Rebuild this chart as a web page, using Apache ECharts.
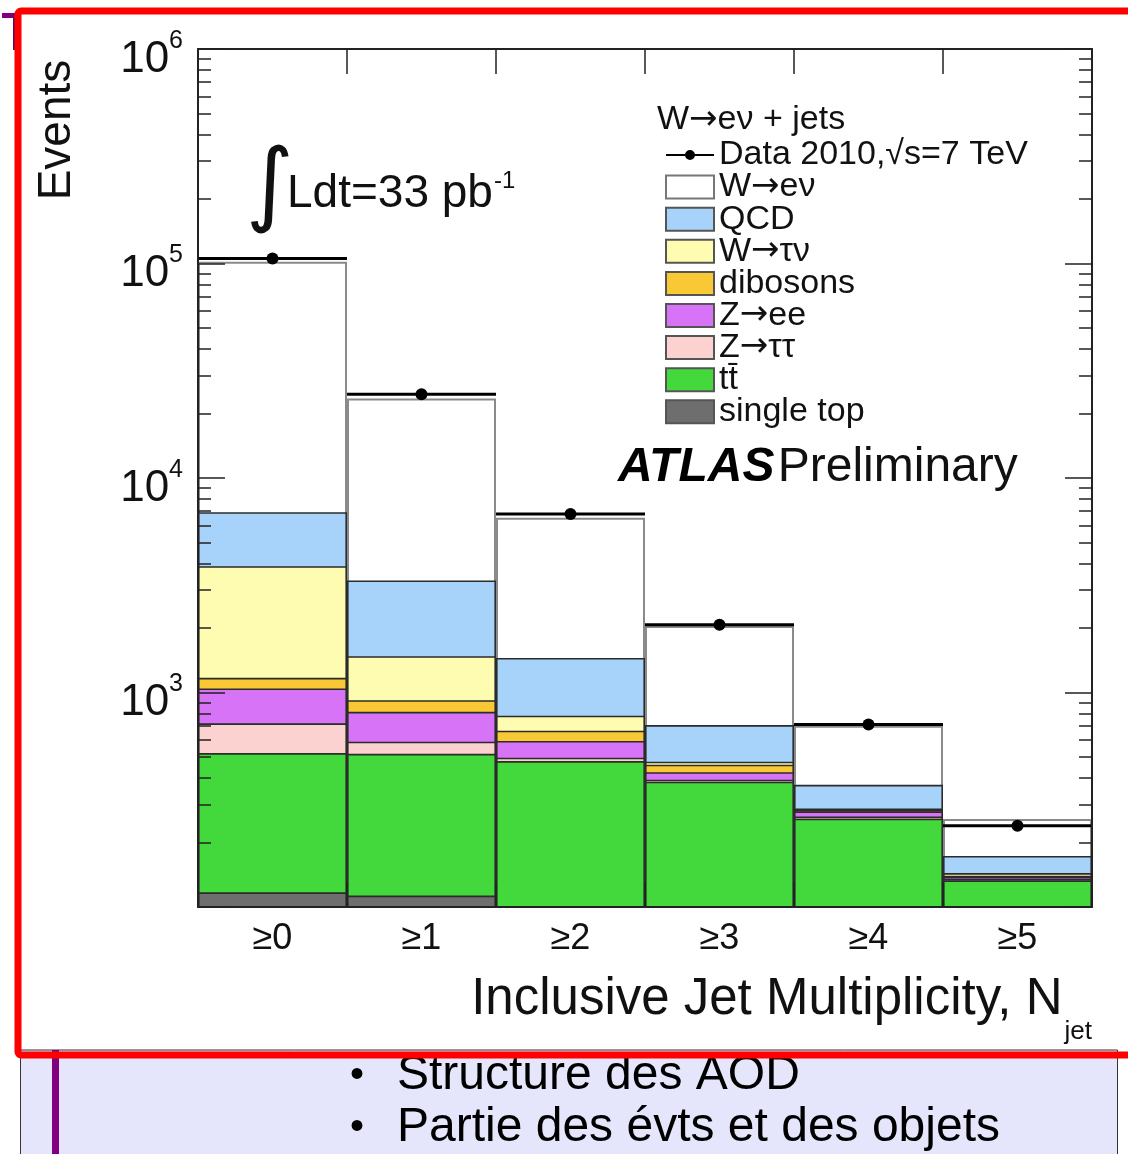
<!DOCTYPE html>
<html>
<head>
<meta charset="utf-8">
<script src="https://cdn.jsdelivr.net/npm/echarts@6/dist/echarts.min.js"></script>
<style>
html,body{margin:0;padding:0;background:#fff;}
#chart{width:1128px;height:1154px;}
</style>
</head>
<body>
<div id="chart"></div>
<script>
// ---------------- data ----------------
const categories = ['≥0', '≥1', '≥2', '≥3', '≥4', '≥5'];
const dataEvents = [105500, 24600, 6800, 2070, 710, 239];
const wenu      = [95075, 20170, 5080, 1335, 329, 84];
const qcd       = [3045, 1854, 670, 229, 83, 29];
const wtaunu    = [2710, 556, 116, 15, 5, 4];
const dibosons  = [125, 107, 70, 36, 4, 2];
const zee       = [327, 223, 97, 33, 15, 3];
const ztautau   = [196, 72, 18, 8, 6, 2];
const ttbar     = [405, 405, 389, 324, 228, 123];
const singleTop = [117, 113, 90, 60, 30, 10];
const yMajorTicks = [100, 1000, 10000, 100000, 1000000];
const yLabelTicks = [1000, 10000, 100000, 1000000];
const yMinorTicks = [200, 300, 400, 500, 600, 700, 800, 900,
  2000, 3000, 4000, 5000, 6000, 7000, 8000, 9000,
  20000, 30000, 40000, 50000, 60000, 70000, 80000, 90000,
  200000, 300000, 400000, 500000, 600000, 700000, 800000, 900000];
const dataName = 'Data 2010,√s=7 TeV';

// ---------------- build ----------------
const FONT = '"Liberation Sans", Arial, Helvetica, sans-serif';
const ARROWFONT = '"DejaVu Sans", sans-serif';
const layers = [ // bottom -> top of the stack
  {name: 'single top', values: singleTop, color: '#6e6e6e'},
  {name: 'tt\u0304', values: ttbar, color: '#43d83b'},
  {name: 'Z→ττ', values: ztautau, color: '#fcd2d0'},
  {name: 'Z→ee', values: zee, color: '#d773f6'},
  {name: 'dibosons', values: dibosons, color: '#f8c935'},
  {name: 'W→τν', values: wtaunu, color: '#fdfcb1'},
  {name: 'QCD', values: qcd, color: '#a7d3fa'},
  {name: 'W→eν', values: wenu, color: '#ffffff', border: '#8a8a8a'}
];
// cumulative stack tops
let running = categories.map(() => 0);
layers.forEach(l => {
  running = running.map((r, i) => r + l.values[i]);
  l.cum = running.slice();
});

const series = [];
for (let k = layers.length - 1; k >= 0; k--) {
  const l = layers[k];
  series.push({
    name: l.name,
    type: 'bar',
    xAxisIndex: 0, yAxisIndex: 0,
    data: l.cum,
    barGap: '-100%',
    barCategoryGap: '0%',
    clip: true,
    z: 2 + (layers.length - k),
    itemStyle: {color: l.color, borderColor: l.border || '#2b2b2b', borderWidth: l.border ? 2 : 1.6},
    emphasis: {disabled: true}
  });
}
series.push({
  name: dataName,
  type: 'custom',
  xAxisIndex: 0, yAxisIndex: 0,
  z: 20,
  itemStyle: {color: '#000'},
  data: dataEvents.map((v, i) => [i, v]),
  encode: {x: 0, y: 1},
  renderItem: function (params, api) {
    const c = api.coord([api.value(0), api.value(1)]);
    const w = api.size([1, 0])[0];
    return {
      type: 'group',
      children: [
        {type: 'line', shape: {x1: c[0] - w / 2, y1: c[1], x2: c[0] + w / 2, y2: c[1]}, style: {stroke: '#000', lineWidth: 3}},
        {type: 'circle', shape: {cx: c[0], cy: c[1], r: 6}, style: {fill: '#000'}}
      ]
    };
  }
});

const axisLineStyle = {color: '#222', width: 2};
const tickStyle = {color: '#222', width: 1.5};
function logAxis(extra) {
  return Object.assign({
    type: 'log', logBase: 10, min: 100, max: 1000000, z: 30,
    splitLine: {show: false}, minorTick: {show: false}
  }, extra);
}

const option = {
  animation: false,
  backgroundColor: '#ffffff',
  grid: {left: 198, right: 36, top: 49, bottom: 247, containLabel: false},
  legend: {
    orient: 'vertical', left: 660, top: 133,
    itemWidth: 48, itemHeight: 23, itemGap: -1.9,
    selectedMode: false,
    textStyle: {
      fontFamily: FONT, fontSize: 34, color: '#111',
      rich: {a: {fontFamily: ARROWFONT, fontSize: 34, color: '#111'}}
    },
    formatter: function (name) { return name.replace('→', '{a|→}'); },
    itemStyle: {borderColor: '#555', borderWidth: 2},
    data: [
      {name: dataName, icon: 'path://M0,3.6 H48 V5.4 H0 Z M29,4.5 A5,5 0 1 1 19,4.5 A5,5 0 1 1 29,4.5 Z', itemStyle: {borderWidth: 0, color: '#000'}},
      {name: 'W→eν', icon: 'rect', itemStyle: {borderColor: '#777'}},
      {name: 'QCD', icon: 'rect'},
      {name: 'W→τν', icon: 'rect'},
      {name: 'dibosons', icon: 'rect'},
      {name: 'Z→ee', icon: 'rect'},
      {name: 'Z→ττ', icon: 'rect'},
      {name: 'tt\u0304', icon: 'rect'},
      {name: 'single top', icon: 'rect'}
    ]
  },
  xAxis: [
    {
      type: 'category', data: categories, position: 'bottom', boundaryGap: true, z: 30,
      axisLine: {show: true, lineStyle: axisLineStyle},
      axisTick: {show: true, inside: true, length: 25, lineStyle: tickStyle},
      axisLabel: {fontFamily: FONT, fontSize: 36, color: '#111', margin: 14},
      name: '{m|Inclusive Jet Multiplicity, N}{s|jet}',
      nameLocation: 'end', nameGap: 0,
      nameTextStyle: {
        align: 'right', verticalAlign: 'top', padding: [67, 0, 0, 0],
        rich: {
          m: {fontFamily: FONT, fontSize: 51, color: '#111', verticalAlign: 'top'},
          s: {fontFamily: FONT, fontSize: 26, color: '#111', verticalAlign: 'top', padding: [45, 0, 0, 2]}
        }
      }
    },
    {
      type: 'category', data: categories, position: 'top', boundaryGap: true, z: 30,
      axisLine: {show: true, lineStyle: axisLineStyle},
      axisTick: {show: true, inside: true, length: 25, lineStyle: tickStyle},
      axisLabel: {show: false}
    }
  ],
  yAxis: [
    logAxis({
      position: 'left',
      axisLine: {show: true, lineStyle: axisLineStyle},
      axisTick: {show: true, inside: true, length: 27, lineStyle: tickStyle, customValues: yMajorTicks},
      axisLabel: {
        customValues: yLabelTicks,
        margin: 15, padding: [12, 0, 0, 0],
        formatter: function (v) {
          const e = Math.round(Math.log10(v));
          return '{b|10}{e|' + e + '}';
        },
        rich: {
          b: {fontFamily: FONT, fontSize: 44, color: '#111', verticalAlign: 'bottom'},
          e: {fontFamily: FONT, fontSize: 25, color: '#111', verticalAlign: 'bottom', padding: [0, 0, 28, 0]}
        }
      }
    }),
    logAxis({
      position: 'left',
      axisLine: {show: false},
      axisTick: {show: true, inside: true, length: 13, lineStyle: tickStyle, customValues: yMinorTicks},
      axisLabel: {show: false}
    }),
    logAxis({
      position: 'right',
      axisLine: {show: true, lineStyle: axisLineStyle},
      axisTick: {show: true, inside: true, length: 27, lineStyle: tickStyle, customValues: yMajorTicks},
      axisLabel: {show: false}
    }),
    logAxis({
      position: 'right',
      axisLine: {show: false},
      axisTick: {show: true, inside: true, length: 13, lineStyle: tickStyle, customValues: yMinorTicks},
      axisLabel: {show: false}
    })
  ],
  graphic: [
    // slide remnants behind the frame
    {type: 'rect', z: 0, shape: {x: 2, y: 13, width: 13, height: 5}, style: {fill: '#800080'}},
    {type: 'rect', z: 0, shape: {x: 13, y: 13, width: 2.5, height: 37}, style: {fill: '#5a0f5a'}},
    // lavender text box at the bottom
    {type: 'rect', z: 0, shape: {x: 20.5, y: 1050, width: 1097, height: 120}, style: {fill: '#e5e5fb', stroke: '#333', lineWidth: 1}},
    {type: 'rect', z: 1, shape: {x: 52, y: 1050, width: 7, height: 120}, style: {fill: '#800080'}},
    {type: 'text', z: 1, x: 357, y: 1076, style: {text: '•', fontFamily: FONT, fontSize: 40, fill: '#000', align: 'center', verticalAlign: 'middle'}},
    {type: 'text', z: 1, x: 397, y: 1076, style: {text: 'Structure des AOD', fontFamily: FONT, fontSize: 48, fill: '#000', align: 'left', verticalAlign: 'middle'}},
    {type: 'text', z: 1, x: 357, y: 1128, style: {text: '•', fontFamily: FONT, fontSize: 40, fill: '#000', align: 'center', verticalAlign: 'middle'}},
    {type: 'text', z: 1, x: 397, y: 1128, style: {text: 'Partie des évts et des objets', fontFamily: FONT, fontSize: 48, fill: '#000', align: 'left', verticalAlign: 'middle'}},
    // red frame
    {type: 'rect', z: 50, shape: {x: 18, y: 11, width: 1140, height: 1044, r: 3}, style: {fill: null, stroke: '#ff0000', lineWidth: 7}},
    // y-axis title
    {type: 'text', z: 10, x: 57, y: 130, rotation: Math.PI / 2, style: {text: 'Events', fontFamily: FONT, fontSize: 46, fill: '#111', align: 'center', verticalAlign: 'middle'}},
    // luminosity
    {type: 'text', z: 10, x: 270, y: 190, style: {text: '∫', fontFamily: ARROWFONT, fontSize: 92, fill: '#111', align: 'center', verticalAlign: 'middle'}},
    {type: 'text', z: 10, x: 287, y: 193, style: {
      text: '{m|Ldt=33 pb}{s|-1}', align: 'left', verticalAlign: 'middle',
      rich: {
        m: {fontFamily: FONT, fontSize: 46, fill: '#111', verticalAlign: 'bottom'},
        s: {fontFamily: FONT, fontSize: 24, fill: '#111', verticalAlign: 'bottom', padding: [0, 0, 24, 1]}
      }
    }},
    // legend header
    {type: 'text', z: 10, x: 657, y: 120, style: {
      text: 'W{a|→}eν + jets', fontFamily: FONT, fontSize: 34, fill: '#111', align: 'left', verticalAlign: 'middle',
      rich: {a: {fontFamily: ARROWFONT, fontSize: 34, fill: '#111'}}
    }},
    // ATLAS label
    {type: 'text', z: 10, x: 618, y: 468, style: {
      text: '{a|ATLAS} {p|Preliminary}', align: 'left', verticalAlign: 'middle',
      rich: {
        a: {fontFamily: FONT, fontSize: 48, fontWeight: 'bold', fontStyle: 'italic', fill: '#000'},
        p: {fontFamily: FONT, fontSize: 48, fill: '#111'}
      }
    }}
  ],
  series: series
};

const chart = echarts.init(document.getElementById('chart'), null, {renderer: 'canvas'});
chart.setOption(option);
</script>
</body>
</html>
